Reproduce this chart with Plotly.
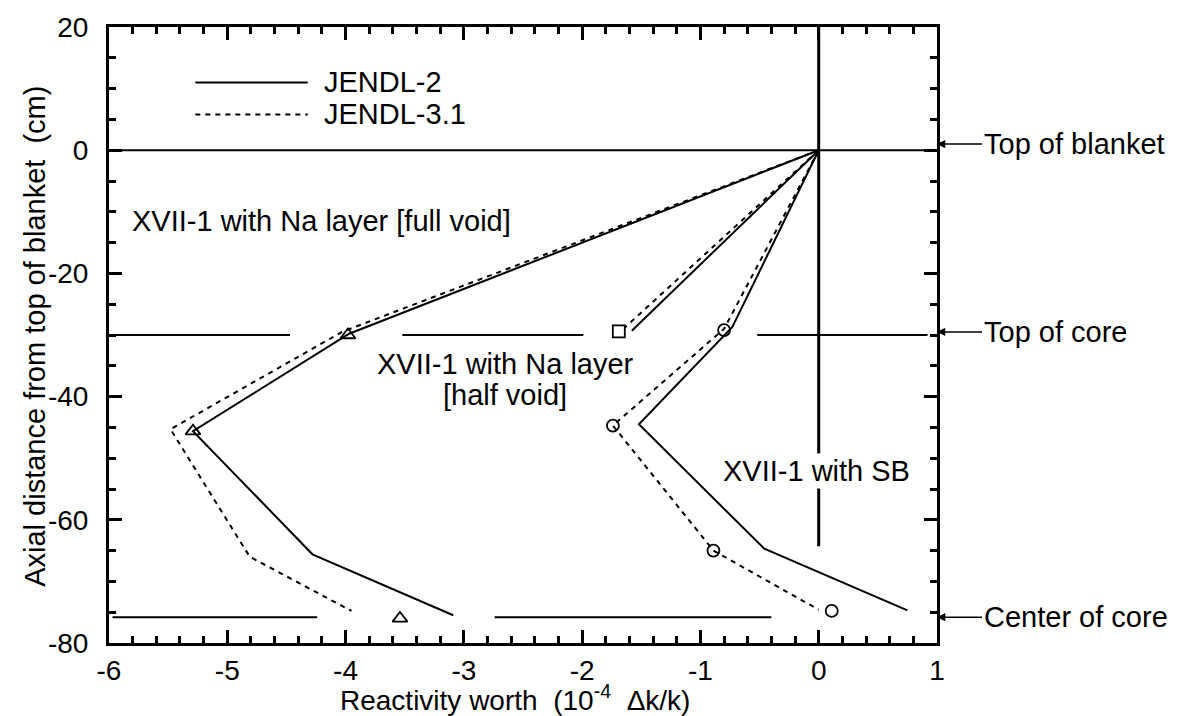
import plotly.graph_objects as go

# ---- data: reactivity worth (1e-4 dk/k) vs axial distance from top of blanket (cm)
# XVII-1 with Na layer [full void]
fv_jendl2_x = [0.0, -3.97, -5.29, -4.28, -3.09]
fv_jendl2_z = [0.0, -29.8, -45.6, -65.6, -75.5]
fv_jendl31_x = [0.0, -4.03, -5.48, -4.81, -3.95]
fv_jendl31_z = [0.0, -29.5, -45.3, -66.0, -74.8]
fv_exp_x = [-3.98, -5.29, -3.54]
fv_exp_z = [-30.0, -45.6, -76.0]

# XVII-1 with Na layer [half void]
hv_jendl2_x = [0.0, -1.58]
hv_jendl2_z = [0.0, -29.3]
hv_jendl31_x = [0.0, -1.64]
hv_jendl31_z = [0.0, -28.8]
hv_exp_x = [-1.69]
hv_exp_z = [-29.4]

# XVII-1 with SB
sb_jendl2_x = [0.0, -0.73, -1.52, -0.46, 0.75]
sb_jendl2_z = [0.0, -28.7, -44.5, -64.7, -74.7]
sb_jendl31_x = [0.0, -0.80, -1.74, -0.89, 0.0]
sb_jendl31_z = [0.0, -29.0, -44.7, -65.0, -74.6]
sb_exp_x = [-0.80, -1.74, -0.89, 0.11]
sb_exp_z = [-29.2, -44.7, -65.0, -74.8]

# reference levels
z_top_blanket = 0.0
z_top_core = -30.0
z_center_core = -75.8
core_top_segments = [(-5.99, -4.47), (-3.52, -1.99), (-0.52, 0.92)]
core_center_segments = [(-5.97, -4.24), (-2.74, -0.40)]
zero_line_bottom = -64.3

# axes
x_range = [-6, 1]
y_range = [-80, 20]
x_tickvals = [-6, -5, -4, -3, -2, -1, 0, 1]
x_ticktext = ["-6", "-5", "-4", "-3", "-2", "-1", "0", "1"]
y_tickvals = [-80, -60, -40, -20, 0, 20]
y_ticktext = ["-80", "-60", "-40", "-20", "0", "20"]

FONT = "Liberation Sans, Arial, Helvetica, sans-serif"
SOLID = dict(color="black", width=2)
DASHED = dict(color="black", width=2, dash="5px,5px")

fig = go.Figure()

def add_line(x, z, line):
    fig.add_trace(go.Scatter(x=x, y=z, mode="lines", line=line,
                             showlegend=False, hoverinfo="skip"))

def add_points(x, z, symbol, size):
    fig.add_trace(go.Scatter(x=x, y=z, mode="markers", showlegend=False,
                             marker=dict(symbol=symbol, size=size, color="black",
                                         line=dict(width=1.8, color="black"))))

add_line(fv_jendl2_x, fv_jendl2_z, SOLID)
add_line(fv_jendl31_x, fv_jendl31_z, DASHED)
add_line(hv_jendl2_x, hv_jendl2_z, SOLID)
add_line(hv_jendl31_x, hv_jendl31_z, DASHED)
add_line(sb_jendl2_x, sb_jendl2_z, SOLID)
add_line(sb_jendl31_x, sb_jendl31_z, DASHED)
add_points(fv_exp_x, fv_exp_z, "triangle-up-open", 13)
add_points(hv_exp_x, hv_exp_z, "square-open", 12)
add_points(sb_exp_x, sb_exp_z, "circle-open", 12)

# key samples
key_x = [-5.27, -4.32]
add_line(key_x, [11.0, 11.0], SOLID)
add_line(key_x, [5.8, 5.8], DASHED)

shapes = [
    dict(type="line", xref="x", yref="y", x0=-6, x1=1, y0=z_top_blanket, y1=z_top_blanket,
         line=dict(color="black", width=2)),
    dict(type="line", xref="x", yref="y", x0=0, x1=0, y0=20, y1=zero_line_bottom,
         line=dict(color="black", width=3)),
]
for a, b in core_top_segments:
    shapes.append(dict(type="line", xref="x", yref="y", x0=a, x1=b, y0=z_top_core, y1=z_top_core,
                       line=dict(color="black", width=2)))
for a, b in core_center_segments:
    shapes.append(dict(type="line", xref="x", yref="y", x0=a, x1=b, y0=z_center_core,
                       y1=z_center_core, line=dict(color="black", width=2)))

TXT = dict(family=FONT, size=29, color="black")
annotations = [
    dict(x=-4.20, y=11.0, xref="x", yref="y", text="JENDL-2", showarrow=False,
         xanchor="left", yanchor="middle", font=TXT),
    dict(x=-4.20, y=5.8, xref="x", yref="y", text="JENDL-3.1", showarrow=False,
         xanchor="left", yanchor="middle", font=TXT),
    dict(x=-5.82, y=-11.5, xref="x", yref="y", text="XVII-1 with Na layer [full void]",
         showarrow=False, xanchor="left", yanchor="middle", font=TXT),
    dict(x=-2.65, y=-34.7, xref="x", yref="y", text="XVII-1 with Na layer",
         showarrow=False, xanchor="center", yanchor="middle", font=TXT),
    dict(x=-2.65, y=-39.8, xref="x", yref="y", text="[half void]",
         showarrow=False, xanchor="center", yanchor="middle", font=TXT),
    dict(x=-0.02, y=-52.1, xref="x", yref="y", text="XVII-1 with SB",
         showarrow=False, xanchor="center", yanchor="middle", font=TXT,
         bgcolor="white"),
]
for z, label in [(z_top_blanket + 1.0, "Top of blanket"), (z_top_core + 0.5, "Top of core"),
                 (z_center_core, "Center of core")]:
    annotations.append(dict(x=1, y=z, xref="x", yref="y", text=label, showarrow=True,
                            ax=45, ay=0, axref="pixel", ayref="pixel",
                            xanchor="left", yanchor="middle", font=TXT,
                            arrowhead=2, arrowsize=1.1, arrowwidth=1.5,
                            arrowcolor="black", standoff=0))
annotations.append(dict(x=0.49, y=0, xref="paper", yref="paper", yshift=-55,
                        text="Reactivity worth\u00a0 (10<sup>-4</sup>\u00a0 \u0394k/k)",
                        showarrow=False, xanchor="center", yanchor="middle",
                        font=dict(family=FONT, size=28, color="black")))
annotations.append(dict(x=0, y=0.497, xref="paper", yref="paper", xshift=-74,
                        text="Axial distance from top of blanket\u00a0 (cm)", textangle=-90,
                        showarrow=False, xanchor="center", yanchor="middle", font=TXT))

x_minor = dict(dtick=0.2, tick0=0, ticks="inside", ticklen=7, tickwidth=2.5,
               tickcolor="black", showgrid=False)
y_minor = dict(dtick=5, tick0=0, ticks="inside", ticklen=7, tickwidth=2.5,
               tickcolor="black", showgrid=False)
axis_common = dict(showline=True, linewidth=3, linecolor="black", mirror="allticks",
                   ticks="inside", ticklen=13, tickwidth=2.5, tickcolor="black",
                   showgrid=False, zeroline=False, layer="above traces",
                   tickfont=dict(family=FONT, size=28, color="black"))

fig.update_layout(
    xaxis=dict(range=x_range, tickmode="array", tickvals=x_tickvals, ticktext=x_ticktext,
               minor=x_minor, **axis_common),
    yaxis=dict(range=y_range, tickmode="array", tickvals=y_tickvals, ticktext=y_ticktext,
               minor=y_minor, ticklabelstandoff=12, **axis_common),
    width=1178, height=716, margin=dict(l=109, r=241, t=23, b=73),
    paper_bgcolor="white", plot_bgcolor="white",
    shapes=shapes, annotations=annotations, showlegend=False,
    font=dict(family=FONT, color="black"),
)

fig.write_html("out.html")
